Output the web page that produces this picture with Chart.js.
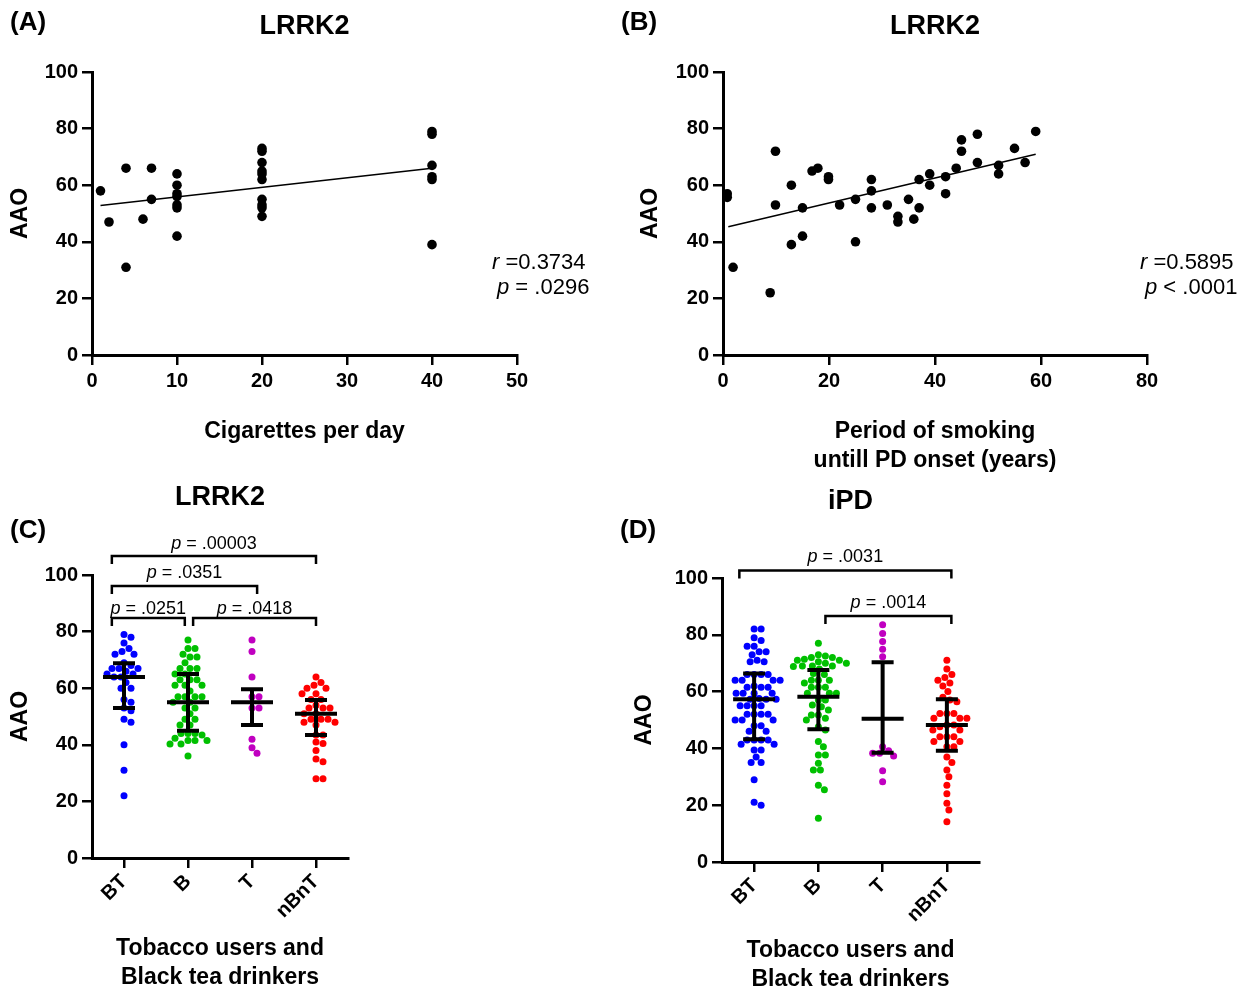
<!DOCTYPE html>
<html>
<head>
<meta charset="utf-8">
<script src="https://cdn.jsdelivr.net/npm/chart.js@4.4.0/dist/chart.umd.min.js"></script>
<style>
  body { margin: 0; background: #fff; width: 1240px; height: 988px; position: relative; overflow: hidden; }
  canvas { position: absolute; }
</style>
</head>
<body>
<canvas id="chartA" width="620" height="494" style="left:0;top:0"></canvas>
<canvas id="chartB" width="620" height="494" style="left:620px;top:0"></canvas>
<canvas id="chartC" width="620" height="512" style="left:0;top:476px"></canvas>
<canvas id="chartD" width="620" height="512" style="left:620px;top:476px"></canvas>
<script>
// ---- data ----

// (A) cigarettes per day vs age at onset
var cigsPerDay = [1, 2, 4, 4, 6, 7, 7, 10, 10, 10, 10, 10, 10, 10,
    20, 20, 20, 20, 20, 20, 20, 20, 20, 20, 40, 40, 40, 40, 40, 40];
var cigsAAO = [58, 47, 66, 31, 48, 66, 55, 64, 60, 57, 56, 53, 52, 42,
    73, 72, 68, 65, 64, 62, 55, 53, 52, 49, 79, 78, 67, 63, 62, 39];
var cigsFitX = [1, 40];
var cigsFitY = [52.8, 66];

// (B) years of smoking until onset vs age at onset
var smokeYears = [0.8, 0.8, 1.9, 8.9, 9.9, 9.9, 12.9, 12.9, 15, 15, 16.8, 17.9, 19.9, 19.9,
    22, 25, 25, 28, 28, 28, 31, 33, 33, 35, 36, 37, 37, 39, 39, 42, 42, 44, 45, 45,
    48, 48, 52, 52, 55, 57, 59];
var smokeAAO = [57, 55.7, 31, 22, 72, 53, 60, 39, 52, 42, 65, 66, 63, 62,
    53, 55, 40, 62, 58, 52, 53, 49, 47, 55, 48, 52, 62, 64, 60, 63, 57, 66, 76, 72,
    78, 68, 67, 64, 73, 68, 79];
var smokeFitX = [1, 59];
var smokeFitY = [45.3, 70.9];

// (C)/(D) groups
var groupLabels = ['BT', 'B', 'T', 'nBnT'];
var groupColors = ['#0000ff', '#00c000', '#c000c0', '#ff0000'];

var lrrkBT = [79, 78, 76, 74, 73, 72, 72, 69, 68, 67, 67, 67, 66, 65, 65, 64, 64, 62,
    60, 60, 56, 55, 53, 52, 49, 48, 40, 31, 22];
var lrrkB = [77, 74, 74, 72, 71, 71, 69, 67, 67, 67, 65, 65, 63, 63, 63, 61, 61, 61, 59,
    57, 57, 57, 57, 55, 55, 53, 53, 51, 49, 49, 47, 47, 44, 44, 44, 43.5, 42.3, 41.5,
    41.5, 41.5, 40.3, 40.3, 36];
var lrrkT = [77, 73, 64, 57, 57, 53, 53, 42, 39, 37];
var lrrkN = [64, 62, 61, 60, 60, 58, 58, 56, 56, 54, 53, 53, 53, 51, 51, 49, 49, 49,
    48, 48, 47, 43.5, 43.5, 41, 40.5, 38, 35, 34, 28, 28];
var lrrkMedian = [64, 55, 55, 51];
var lrrkQ1 = [53, 45, 47, 43.5];
var lrrkQ3 = [68.8, 65, 59.6, 55.8];

var ipdBT = [82, 82, 79, 78, 76, 76, 74, 74, 73, 71, 70.5, 70.5, 66, 66, 66, 66,
    64, 64, 64, 64, 62, 61.5, 61.5, 61.5, 59.4, 59.4, 59.4, 59.4, 57.6, 57.3, 57.3, 57.3,
    55, 55, 55, 55, 52, 52, 52, 52, 50, 50, 50, 48, 48, 46, 46, 43, 43, 43, 43,
    41.5, 41.5, 39.4, 39.4, 37, 35, 35, 29, 21, 20];
var ipdB = [77, 73, 72.5, 72, 72, 71.4, 71, 71, 70.5, 70, 70, 69, 69, 69, 68.8, 68,
    66.4, 66, 64, 64, 64, 63, 61.5, 61.5, 61.5, 59.4, 59.4, 59.4, 57, 57, 55.3, 54.7,
    53.5, 51.8, 51.8, 50.6, 50, 47.6, 46.5, 42.4, 40.6, 37.7, 37.7, 34.8, 32.4, 32.4,
    27, 25.4, 15.4];
var ipdT = [83.5, 80.5, 77.6, 74.9, 72.3, 40.6, 39.2, 38.3, 38.3, 37.3, 32.1, 28.3];
var ipdN = [71, 68, 66, 65, 64, 63, 62, 60, 58, 57, 56.4, 52.3, 52.3, 52.3, 50.6, 50.6,
    50.6, 48.2, 48.2, 47.6, 46.5, 46.5, 44.1, 44.1, 44.1, 42.4, 42.4, 40.6, 40.6,
    37, 35, 32.4, 30, 27, 24, 20.7, 18.3, 14.2];
var ipdMedian = [57.3, 58.2, 50.4, 48.2];
var ipdQ1 = [43.2, 46.7, 38.5, 39.2];
var ipdQ3 = [66.4, 67.6, 70.3, 57.3];

// significance brackets: group positions (from, to), height in AAO units
var lrrkBrackets = [
    {from: -0.19, to: 3.0, level: 106.7, text: ' = .00003', gap: 12},
    {from: -0.19, to: 2.08, level: 96.1, text: ' = .0351', gap: 13},
    {from: -0.19, to: 0.95, level: 84.8, text: ' = .0251', gap: 9},
    {from: 1.08, to: 3.0, level: 84.8, text: ' = .0418', gap: 9}
];
var ipdBrackets = [
    {from: -0.23, to: 3.07, level: 102.6, text: ' = .0031', gap: 14},
    {from: 1.11, to: 3.07, level: 86.6, text: ' = .0014', gap: 13}
];

// ---- styling ----
var FAMILY = "'Liberation Sans', Arial, sans-serif";
Chart.defaults.font.family = FAMILY;
Chart.defaults.color = '#000';
Chart.defaults.animation = false;

var tickFont = {size: 20, weight: 'bold'};
var xTitleFont = {size: 23, weight: 'bold', lineHeight: 1.26};

function yAxis(width, titlePad) {
    return {
        type: 'linear',
        min: 0,
        max: 100,
        afterFit: function(s) { s.width = width; },
        ticks: {stepSize: 20, font: tickFont, color: '#000', padding: 4},
        grid: {drawOnChartArea: false, color: '#000', lineWidth: 2.5, tickLength: 10},
        border: {color: '#000', width: 3},
        title: {display: true, text: 'AAO', color: '#000',
            font: {size: 23, weight: 'bold'}, padding: {top: titlePad, bottom: 0}}
    };
}

function xAxisLinear(min, max, step, height, title, padBottom) {
    return {
        type: 'linear',
        min: min,
        max: max,
        afterFit: function(s) { s.height = height; },
        ticks: {stepSize: step, font: tickFont, color: '#000', padding: 4, maxRotation: 0},
        grid: {drawOnChartArea: false, color: '#000', lineWidth: 2.5, tickLength: 10},
        border: {color: '#000', width: 3},
        title: {display: true, text: title, color: '#000', font: xTitleFont,
            padding: {top: 0, bottom: padBottom}}
    };
}

function xAxisGroups(height, padBottom) {
    return {
        type: 'linear',
        min: -0.5,
        max: 3.5,
        afterBuildTicks: function(s) {
            s.ticks = groupLabels.map(function(l, i) { return {value: i}; });
        },
        afterFit: function(s) { s.height = height; },
        ticks: {font: tickFont, color: '#000', padding: 2, autoSkip: false,
            minRotation: 45, maxRotation: 45,
            callback: function(v) { return groupLabels[v]; }},
        grid: {drawOnChartArea: false, color: '#000', lineWidth: 2.5, tickLength: 10},
        border: {color: '#000', width: 3},
        title: {display: true, text: ['Tobacco users and', 'Black tea drinkers'], color: '#000',
            font: xTitleFont, padding: {top: 0, bottom: padBottom}}
    };
}

function drawItalicLead(ctx, lead, rest, x, y, size, align) {
    ctx.font = 'italic ' + size + 'px ' + FAMILY;
    var w1 = ctx.measureText(lead).width;
    ctx.font = size + 'px ' + FAMILY;
    var w2 = ctx.measureText(rest).width;
    var start = align === 'center' ? x - (w1 + w2) / 2 : x;
    ctx.textAlign = 'left';
    ctx.font = 'italic ' + size + 'px ' + FAMILY;
    ctx.fillText(lead, start, y);
    ctx.font = size + 'px ' + FAMILY;
    ctx.fillText(rest, start + w1, y);
}

// panel letter, title, r/p text, brackets
var decorPlugin = {
    id: 'decor',
    afterDraw: function(chart, args, opts) {
        var ctx = chart.ctx;
        var area = chart.chartArea;
        ctx.save();
        ctx.fillStyle = '#000';
        ctx.strokeStyle = '#000';
        ctx.textBaseline = 'middle';

        ctx.font = 'bold 26px ' + FAMILY;
        ctx.textAlign = 'left';
        ctx.fillText(opts.letter, opts.letterX, opts.letterY);

        ctx.font = 'bold 27px ' + FAMILY;
        ctx.textAlign = 'center';
        ctx.fillText(opts.title, (area.left + area.right) / 2, opts.titleY);

        (opts.stats || []).forEach(function(s) {
            drawItalicLead(ctx, s.lead, s.rest, s.x, s.y, 22, 'left');
        });

        var xs = chart.scales.x, ys = chart.scales.y;
        ctx.lineWidth = 2.5;
        (opts.brackets || []).forEach(function(b) {
            var x1 = xs.getPixelForValue(b.from), x2 = xs.getPixelForValue(b.to);
            var yb = ys.getPixelForValue(b.level);
            ctx.beginPath();
            ctx.moveTo(x1, yb + 8);
            ctx.lineTo(x1, yb);
            ctx.lineTo(x2, yb);
            ctx.lineTo(x2, yb + 8);
            ctx.stroke();
            drawItalicLead(ctx, 'p', b.text, (x1 + x2) / 2, yb - b.gap, 18, 'center');
        });
        ctx.restore();
    }
};

// median with interquartile range
var errorBarPlugin = {
    id: 'medianBars',
    afterDatasetsDraw: function(chart, args, opts) {
        if (!opts.median) return;
        var ctx = chart.ctx, xs = chart.scales.x, ys = chart.scales.y;
        ctx.save();
        ctx.strokeStyle = '#000';
        ctx.lineWidth = 4;
        ctx.lineCap = 'butt';
        opts.median.forEach(function(m, i) {
            var cx = xs.getPixelForValue(i);
            var yq1 = ys.getPixelForValue(opts.q1[i]);
            var yq3 = ys.getPixelForValue(opts.q3[i]);
            var ym = ys.getPixelForValue(m);
            ctx.beginPath();
            ctx.moveTo(cx, yq1); ctx.lineTo(cx, yq3);
            ctx.moveTo(cx - 11, yq1); ctx.lineTo(cx + 11, yq1);
            ctx.moveTo(cx - 11, yq3); ctx.lineTo(cx + 11, yq3);
            ctx.moveTo(cx - 21, ym); ctx.lineTo(cx + 21, ym);
            ctx.stroke();
        });
        ctx.restore();
    }
};

Chart.register(decorPlugin, errorBarPlugin);

function pairs(xs, ys) {
    return xs.map(function(x, i) { return {x: x, y: ys[i]}; });
}

function scatterChart(id, xVals, yVals, fitX, fitY, xAxis, yWidth, yPad, pad, decor) {
    return new Chart(document.getElementById(id), {
        type: 'scatter',
        data: {
            datasets: [{
                data: pairs(xVals, yVals),
                backgroundColor: '#000',
                pointRadius: 4.8,
                pointBorderWidth: 0
            }, {
                type: 'line',
                data: pairs(fitX, fitY),
                borderColor: '#000',
                borderWidth: 1.5,
                pointRadius: 0,
                fill: false
            }]
        },
        options: {
            responsive: false,
            layout: {padding: pad},
            scales: {x: xAxis, y: yAxis(yWidth, yPad)},
            plugins: {legend: {display: false}, tooltip: {enabled: false}, decor: decor}
        }
    });
}

function dotChart(id, groups, median, q1, q3, xAxis, yWidth, yPad, pad, decor) {
    var chart = new Chart(document.getElementById(id), {
        type: 'scatter',
        data: {
            datasets: groups.map(function(vals, g) {
                return {
                    data: vals.map(function(v) { return {x: g, y: v}; }),
                    backgroundColor: groupColors[g],
                    pointRadius: 3.5,
                    pointBorderWidth: 0
                };
            })
        },
        options: {
            responsive: false,
            layout: {padding: pad},
            scales: {x: xAxis, y: yAxis(yWidth, yPad)},
            plugins: {legend: {display: false}, tooltip: {enabled: false}, decor: decor,
                medianBars: {median: median, q1: q1, q3: q3}}
        }
    });

    // spread the dots sideways so they do not overlap (simple beeswarm)
    var xs = chart.scales.x, ys = chart.scales.y;
    var unit = xs.getPixelForValue(1) - xs.getPixelForValue(0);
    var minDist = 7;
    groups.forEach(function(vals, g) {
        var pts = vals.map(function(v) { return {y: v, py: ys.getPixelForValue(v), dx: 0}; });
        var placed = [];
        pts.slice().sort(function(a, b) { return b.y - a.y; }).forEach(function(p) {
            for (var k = 0; k < 400; k++) {
                var off = (k % 2 ? 1 : -1) * Math.ceil(k / 2);
                var ok = placed.every(function(q) {
                    var ddx = q.dx - off, ddy = q.py - p.py;
                    return ddx * ddx + ddy * ddy >= minDist * minDist;
                });
                if (ok) { p.dx = off; placed.push(p); break; }
            }
        });
        chart.data.datasets[g].data = pts.map(function(p) { return {x: g + p.dx / unit, y: p.y}; });
    });
    chart.update();
    return chart;
}

scatterChart('chartA', cigsPerDay, cigsAAO, cigsFitX, cigsFitY,
    xAxisLinear(0, 50, 10, 139, 'Cigarettes per day', 47.5),
    92, 7, {left: 0, top: 72, right: 103, bottom: 0},
    {letter: '(A)', letterX: 10, letterY: 23, title: 'LRRK2', titleY: 27,
        stats: [{lead: 'r', rest: ' =0.3734', x: 492, y: 263},
                {lead: 'p', rest: ' = .0296', x: 497, y: 288}]});

scatterChart('chartB', smokeYears, smokeAAO, smokeFitX, smokeFitY,
    xAxisLinear(0, 80, 20, 139, ['Period of smoking', 'untill PD onset (years)'], 18.5),
    103, 17, {left: 0, top: 72, right: 93, bottom: 0},
    {letter: '(B)', letterX: 1, letterY: 23, title: 'LRRK2', titleY: 27,
        stats: [{lead: 'r', rest: ' =0.5895', x: 1140 - 620, y: 263},
                {lead: 'p', rest: ' < .0001', x: 1145 - 620, y: 288}]});

dotChart('chartC', [lrrkBT, lrrkB, lrrkT, lrrkN], lrrkMedian, lrrkQ1, lrrkQ3,
    xAxisGroups(130, -4), 92, 7, {left: 0, top: 99, right: 272, bottom: 0},
    {letter: '(C)', letterX: 10, letterY: 55, title: 'LRRK2', titleY: 22, brackets: lrrkBrackets});

dotChart('chartD', [ipdBT, ipdB, ipdT, ipdN], ipdMedian, ipdQ1, ipdQ3,
    xAxisGroups(126, -6.5), 102, 11, {left: 0, top: 102, right: 261, bottom: 0},
    {letter: '(D)', letterX: 0, letterY: 55, title: 'iPD', titleY: 26, brackets: ipdBrackets});
</script>
</body>
</html>
